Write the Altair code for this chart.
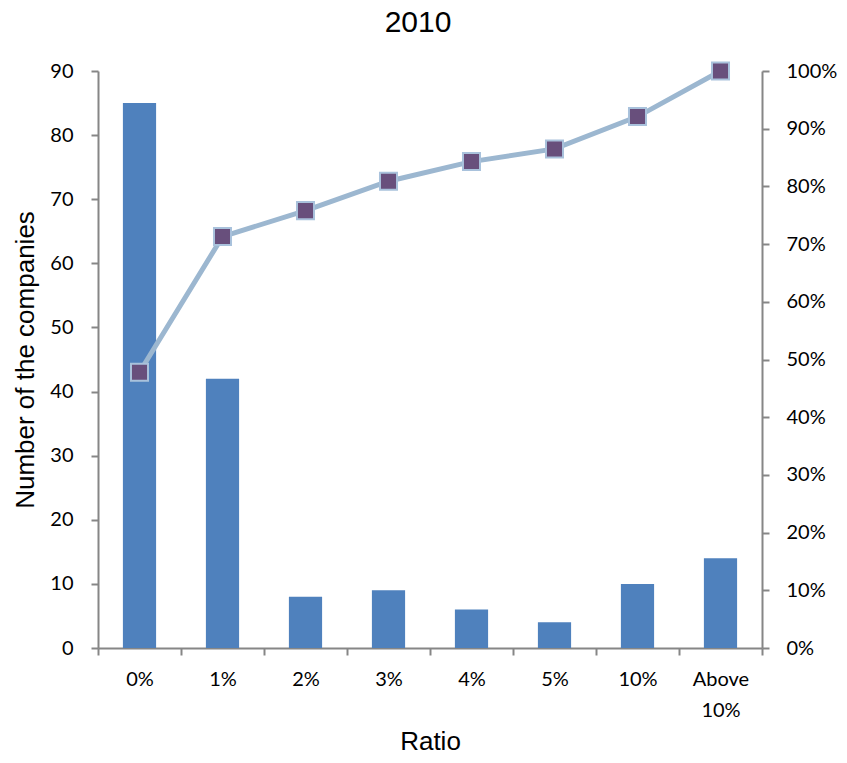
import altair as alt
import pandas as pd

categories = ["0%", "1%", "2%", "3%", "4%", "5%", "10%", "Above 10%"]
counts = [85, 42, 8, 9, 6, 4, 10, 14]
cumulative = [0.478, 0.713, 0.758, 0.809, 0.843, 0.865, 0.921, 1.0]
left_ticks = [0, 10, 20, 30, 40, 50, 60, 70, 80, 90]
right_ticks = [0.0, 0.1, 0.2, 0.3, 0.4, 0.5, 0.6, 0.7, 0.8, 0.9, 1.0]

df = pd.DataFrame({"Ratio": categories, "Count": counts, "Cum": cumulative})

LABEL_FONT = "Lato"
TITLE_FONT = "Liberation Sans"
AXIS_COLOR = "#868686"

x = alt.X(
    "Ratio:N",
    sort=categories,
    scale=alt.Scale(paddingInner=0, paddingOuter=0),
    axis=alt.Axis(
        title="Ratio",
        labelAngle=0,
        tickBand="extent",
        labelExpr="datum.label == 'Above 10%' ? ['Above', '10%'] : datum.label",
        labelLineHeight=31,
        labelPadding=14,
        titlePadding=8,
    ),
)

bars = alt.Chart(df).mark_bar(color="#4f81bd", width=alt.RelativeBandSize(0.4)).encode(
    x=x,
    y=alt.Y(
        "Count:Q",
        scale=alt.Scale(domain=[0, 90]),
        axis=alt.Axis(
            values=left_ticks,
            title="Number of the companies",
            labelPadding=18,
            titlePadding=11,
        ),
    ),
)

line = alt.Chart(df).mark_line(
    color="#9cb7d0",
    strokeWidth=5,
    point=alt.OverlayMarkDef(
        shape="square",
        filled=True,
        size=290,
        fill="#684f7c",
        stroke="#a9c2dc",
        strokeWidth=2,
        opacity=1,
    ),
).encode(
    x=x,
    y=alt.Y(
        "Cum:Q",
        scale=alt.Scale(domain=[0, 1]),
        axis=alt.Axis(
            orient="right",
            values=right_ticks,
            format=".0%",
            title=None,
            labelPadding=17,
        ),
    ),
)

chart = (
    alt.layer(bars, line)
    .resolve_scale(y="independent")
    .properties(
        width=664,
        height=577,
        autosize=alt.AutoSizeParams(type="none"),
        padding={"left": 90, "top": 63, "right": 77, "bottom": 107},
        title=alt.TitleParams(
            "2010",
            font=TITLE_FONT,
            fontSize=30,
            fontWeight="normal",
            color="black",
            anchor="middle",
            dx=-12,
            offset=20,
        ),
    )
    .configure_view(stroke=None)
    .configure_axis(
        grid=False,
        domainColor=AXIS_COLOR,
        domainWidth=2,
        tickColor=AXIS_COLOR,
        tickWidth=2,
        tickSize=7,
        labelFont=LABEL_FONT,
        labelFontSize=20,
        labelColor="black",
        titleFont=TITLE_FONT,
        titleFontSize=26,
        titleFontWeight="normal",
        titleColor="black",
    )
)

chart.save("out.html", embed_options={"renderer": "svg", "actions": False})
